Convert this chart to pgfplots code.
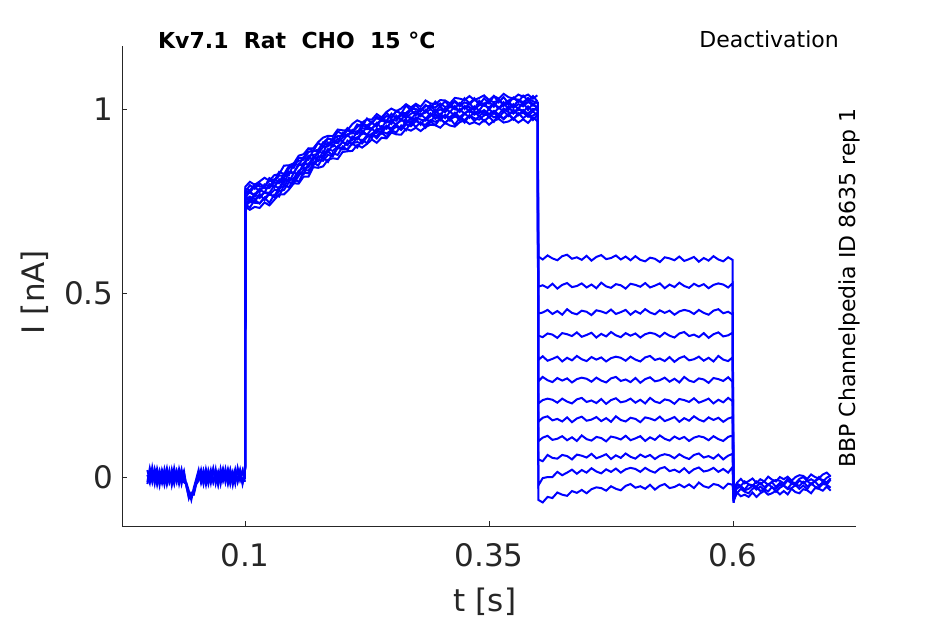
\documentclass[border=0pt]{standalone}
\usepackage{fontspec}
\setmainfont{DejaVu Sans}
\usepackage{pgfplots}
\usepackage{pgfplotstable}
\pgfplotsset{compat=1.18}
\definecolor{axgray}{RGB}{38,38,38}
\definecolor{trace}{RGB}{0,0,255}

\pgfplotstableread{
t a b c d
0.000 0.019 -0.013 0.006 -0.019
0.0025 -0.010 0.024 -0.016 0.013
0.005 0.016 -0.006 0.026 -0.014
0.0075 -0.018 0.014 -0.010 0.022
0.010 0.022 -0.021 0.013 -0.005
0.0125 -0.006 0.010 -0.022 0.018
0.015 0.013 -0.016 0.019 -0.011
0.0175 -0.021 0.021 -0.003 0.014
0.020 0.010 -0.010 0.024 -0.021
0.0225 -0.013 0.018 -0.014 0.006
0.025 0.021 -0.022 0.008 -0.016
0.0275 -0.008 0.011 -0.019 0.024
0.030 0.016 -0.014 0.016 -0.008
0.0325 -0.019 0.022 -0.006 0.013
0.035 0.011 -0.005 0.021 -0.019
0.0375 -0.014 0.016 -0.013 0.010
0.040 -0.020 -0.026 -0.016 -0.024
0.0425 -0.045 -0.052 -0.038 -0.058
0.045 -0.056 -0.046 -0.062 -0.042
0.0475 -0.036 -0.048 -0.030 -0.044
0.050 -0.012 -0.020 -0.006 -0.016
0.0525 0.014 -0.010 0.019 -0.005
0.055 -0.011 0.019 -0.016 0.016
0.0575 0.019 -0.016 0.010 -0.018
0.060 -0.005 0.013 -0.021 0.021
0.0625 0.016 -0.019 0.018 -0.010
0.065 -0.016 0.010 -0.008 0.019
0.0675 0.022 -0.013 0.021 -0.014
0.070 -0.010 0.021 -0.018 0.008
0.0725 0.014 -0.018 0.011 -0.021
0.075 -0.019 0.016 -0.005 0.022
0.0775 0.018 -0.008 0.022 -0.010
0.080 -0.006 0.022 -0.014 0.014
0.0825 0.021 -0.014 0.016 -0.018
0.085 -0.014 0.018 -0.019 0.019
0.0875 0.013 -0.021 0.010 -0.006
0.090 -0.018 0.013 -0.013 0.021
0.0925 0.024 -0.010 0.021 -0.013
0.095 -0.008 0.019 -0.006 0.016
0.0975 0.016 -0.016 0.018 -0.019
0.100 -0.005 0.010 -0.013 0.011
}\pre

\pgfplotstableread{
t a b c d e f g h i j k l
0.1 0.002 -0.004 0.006 -0.002 0.004 0.000 0.003 -0.002 0.001 -0.005 0.004 -0.003
0.1005 0.741 0.738 0.765 0.759 0.777 0.775 0.735 0.754 0.772 0.783 0.734 0.789
0.105 0.732 0.758 0.747 0.776 0.773 0.793 0.749 0.762 0.772 0.779 0.726 0.802
0.110 0.753 0.748 0.769 0.762 0.790 0.783 0.745 0.755 0.767 0.795 0.734 0.794
0.115 0.743 0.769 0.758 0.781 0.774 0.798 0.744 0.762 0.784 0.790 0.731 0.803
0.120 0.759 0.752 0.774 0.773 0.795 0.787 0.759 0.773 0.785 0.789 0.746 0.813
0.125 0.745 0.770 0.772 0.796 0.788 0.812 0.768 0.767 0.785 0.805 0.738 0.805
0.130 0.767 0.761 0.792 0.786 0.809 0.804 0.762 0.780 0.800 0.803 0.753 0.820
0.135 0.762 0.788 0.784 0.809 0.801 0.829 0.776 0.780 0.798 0.819 0.768 0.823
0.140 0.794 0.789 0.810 0.799 0.824 0.823 0.780 0.806 0.814 0.819 0.768 0.846
0.145 0.787 0.813 0.801 0.827 0.820 0.845 0.801 0.806 0.830 0.838 0.781 0.847
0.150 0.809 0.804 0.826 0.826 0.852 0.840 0.798 0.812 0.827 0.852 0.798 0.852
0.155 0.802 0.827 0.824 0.851 0.847 0.867 0.818 0.832 0.847 0.859 0.797 0.873
0.160 0.827 0.822 0.853 0.844 0.869 0.867 0.834 0.840 0.851 0.862 0.816 0.877
0.165 0.825 0.852 0.848 0.869 0.862 0.892 0.833 0.841 0.873 0.883 0.816 0.893
0.170 0.855 0.848 0.871 0.862 0.887 0.886 0.847 0.865 0.875 0.886 0.842 0.893
0.175 0.846 0.872 0.859 0.885 0.883 0.908 0.862 0.870 0.878 0.889 0.840 0.910
0.180 0.869 0.866 0.885 0.880 0.909 0.897 0.859 0.873 0.897 0.908 0.844 0.922
0.185 0.856 0.885 0.882 0.909 0.901 0.920 0.875 0.891 0.898 0.920 0.862 0.927
0.190 0.880 0.873 0.904 0.898 0.920 0.915 0.872 0.886 0.911 0.916 0.866 0.926
0.195 0.875 0.898 0.893 0.920 0.909 0.939 0.894 0.898 0.907 0.927 0.864 0.944
0.200 0.898 0.891 0.911 0.912 0.935 0.931 0.890 0.910 0.922 0.926 0.883 0.942
0.205 0.889 0.914 0.902 0.930 0.927 0.948 0.891 0.902 0.931 0.942 0.885 0.942
0.210 0.907 0.904 0.925 0.916 0.943 0.937 0.907 0.918 0.934 0.935 0.886 0.959
0.215 0.895 0.923 0.918 0.940 0.934 0.958 0.910 0.917 0.932 0.951 0.902 0.969
0.220 0.916 0.911 0.941 0.932 0.958 0.952 0.906 0.934 0.948 0.961 0.895 0.963
0.225 0.907 0.929 0.930 0.954 0.947 0.974 0.924 0.930 0.945 0.955 0.905 0.972
0.230 0.932 0.921 0.946 0.946 0.964 0.960 0.927 0.931 0.946 0.964 0.917 0.971
0.235 0.920 0.942 0.935 0.962 0.951 0.979 0.926 0.946 0.961 0.975 0.908 0.986
0.240 0.936 0.933 0.953 0.948 0.975 0.973 0.940 0.943 0.969 0.968 0.922 0.977
0.245 0.923 0.954 0.946 0.968 0.967 0.990 0.933 0.954 0.963 0.981 0.920 0.992
0.250 0.942 0.940 0.967 0.959 0.987 0.975 0.942 0.947 0.971 0.975 0.936 1.001
0.255 0.936 0.957 0.957 0.982 0.973 0.995 0.952 0.960 0.968 0.994 0.931 0.994
0.260 0.955 0.945 0.973 0.970 0.988 0.987 0.943 0.968 0.983 0.988 0.930 1.001
0.265 0.942 0.969 0.959 0.987 0.980 1.009 0.958 0.970 0.975 0.989 0.946 1.013
0.270 0.965 0.959 0.977 0.971 0.998 0.996 0.953 0.964 0.987 1.001 0.941 1.004
0.275 0.951 0.974 0.968 0.988 0.983 1.011 0.967 0.977 0.994 1.000 0.949 1.014
0.280 0.964 0.957 0.987 0.980 1.001 0.996 0.960 0.971 0.985 0.993 0.940 1.006
0.285 0.949 0.975 0.973 0.997 0.993 1.011 0.957 0.968 0.990 1.008 0.951 1.023
0.290 0.966 0.964 0.988 0.981 1.011 1.001 0.970 0.981 0.999 1.007 0.957 1.015
0.295 0.956 0.984 0.973 0.998 0.994 1.020 0.965 0.987 0.990 1.004 0.956 1.013
0.300 0.974 0.969 0.987 0.981 1.007 1.006 0.972 0.977 0.999 1.015 0.949 1.024
0.305 0.961 0.984 0.975 1.002 0.993 1.021 0.963 0.983 0.991 1.005 0.962 1.023
0.310 0.975 0.968 0.993 0.991 1.014 1.005 0.973 0.977 1.007 1.011 0.955 1.015
0.315 0.957 0.984 0.982 1.008 1.002 1.022 0.979 0.990 0.999 1.019 0.952 1.030
0.320 0.976 0.969 1.000 0.992 1.016 1.011 0.977 0.978 0.996 1.007 0.964 1.028
0.325 0.963 0.988 0.986 1.008 1.000 1.029 0.970 0.989 1.007 1.018 0.969 1.024
0.330 0.983 0.976 1.000 0.991 1.016 1.015 0.982 0.995 1.005 1.012 0.959 1.035
0.335 0.967 0.993 0.985 1.007 0.999 1.029 0.975 0.985 0.997 1.025 0.964 1.024
0.340 0.981 0.980 0.998 0.995 1.022 1.011 0.971 0.989 1.011 1.017 0.958 1.030
0.345 0.966 0.994 0.983 1.015 1.009 1.029 0.983 0.997 1.009 1.013 0.970 1.037
0.350 0.979 0.977 1.000 0.998 1.020 1.015 0.987 0.986 1.004 1.024 0.957 1.024
0.355 0.965 0.992 0.987 1.014 1.006 1.035 0.977 0.995 1.015 1.018 0.968 1.035
0.360 0.985 0.974 1.005 1.001 1.025 1.018 0.981 0.985 1.003 1.024 0.973 1.028
0.365 0.972 0.994 0.991 1.018 1.009 1.032 0.975 1.001 1.009 1.014 0.963 1.041
0.370 0.985 0.981 1.008 0.997 1.020 1.015 0.986 0.991 1.015 1.023 0.966 1.032
0.375 0.971 0.998 0.988 1.013 1.006 1.031 0.974 0.988 1.003 1.028 0.974 1.028
0.380 0.989 0.983 1.003 1.000 1.024 1.019 0.984 0.998 1.013 1.025 0.963 1.039
0.385 0.975 0.997 0.991 1.018 1.012 1.036 0.990 0.996 1.007 1.018 0.972 1.033
0.390 0.985 0.980 1.007 0.997 1.029 1.023 0.979 0.987 1.019 1.029 0.962 1.039
0.395 0.970 0.994 0.994 1.015 1.010 1.035 0.982 1.000 1.010 1.021 0.977 1.028
0.3995 0.984 0.982 1.006 1.003 1.023 1.021 0.989 0.997 1.005 1.016 0.967 1.037
}\rise

\pgfplotstableread{
t a b c d e f g h i j k l
0.4 0.985 1.000 0.990 1.010 0.995 1.020 0.980 1.005 0.990 1.015 1.000 0.985
0.4005 0.599 0.517 0.444 0.384 0.318 0.260 0.200 0.150 0.097 0.048 -0.023 -0.062
0.405 0.591 0.521 0.447 0.380 0.328 0.272 0.209 0.161 0.107 0.043 -0.003 -0.069
0.410 0.602 0.514 0.454 0.390 0.316 0.263 0.213 0.165 0.112 0.060 0.000 -0.054
0.415 0.594 0.525 0.443 0.387 0.321 0.258 0.210 0.154 0.101 0.052 0.000 -0.057
0.420 0.589 0.512 0.451 0.378 0.327 0.269 0.202 0.158 0.104 0.050 0.014 -0.042
0.425 0.600 0.522 0.441 0.391 0.314 0.262 0.213 0.151 0.111 0.060 0.005 -0.048
0.430 0.604 0.527 0.456 0.388 0.324 0.268 0.205 0.162 0.100 0.057 0.012 -0.051
0.435 0.593 0.516 0.446 0.383 0.317 0.257 0.200 0.149 0.108 0.048 0.020 -0.038
0.440 0.597 0.519 0.442 0.393 0.329 0.266 0.211 0.159 0.098 0.061 0.009 -0.043
0.445 0.590 0.526 0.452 0.381 0.320 0.270 0.215 0.164 0.113 0.058 0.019 -0.035
0.450 0.601 0.515 0.449 0.386 0.315 0.267 0.204 0.153 0.103 0.053 0.012 -0.044
0.455 0.588 0.523 0.440 0.392 0.326 0.259 0.208 0.156 0.099 0.063 0.024 -0.033
0.460 0.598 0.513 0.453 0.379 0.319 0.270 0.201 0.163 0.109 0.051 0.015 -0.028
0.465 0.603 0.528 0.450 0.389 0.325 0.262 0.212 0.152 0.106 0.056 0.010 -0.030
0.470 0.592 0.518 0.445 0.382 0.314 0.257 0.199 0.160 0.097 0.062 0.021 -0.037
0.475 0.595 0.514 0.455 0.394 0.323 0.268 0.209 0.150 0.110 0.049 0.014 -0.025
0.480 0.602 0.524 0.443 0.385 0.327 0.272 0.214 0.165 0.107 0.059 0.023 -0.032
0.485 0.591 0.521 0.448 0.380 0.324 0.261 0.203 0.155 0.102 0.052 0.012 -0.036
0.490 0.599 0.512 0.454 0.391 0.316 0.265 0.206 0.151 0.112 0.064 0.021 -0.024
0.495 0.589 0.525 0.441 0.384 0.327 0.258 0.213 0.161 0.100 0.055 0.025 -0.019
0.500 0.600 0.522 0.451 0.390 0.319 0.269 0.202 0.158 0.105 0.050 0.022 -0.029
0.505 0.590 0.517 0.444 0.379 0.314 0.256 0.210 0.149 0.111 0.061 0.014 -0.025
0.510 0.586 0.527 0.456 0.388 0.325 0.266 0.200 0.162 0.098 0.054 0.025 -0.032
0.515 0.596 0.515 0.447 0.392 0.329 0.271 0.215 0.159 0.108 0.060 0.017 -0.021
0.520 0.593 0.520 0.442 0.389 0.318 0.260 0.205 0.154 0.101 0.049 0.012 -0.034
0.525 0.584 0.526 0.453 0.381 0.322 0.263 0.201 0.164 0.113 0.058 0.023 -0.024
0.530 0.597 0.513 0.446 0.392 0.315 0.270 0.211 0.152 0.104 0.062 0.027 -0.019
0.535 0.594 0.523 0.452 0.384 0.326 0.259 0.208 0.157 0.099 0.059 0.016 -0.030
0.540 0.589 0.516 0.441 0.379 0.313 0.267 0.199 0.163 0.110 0.051 0.020 -0.027
0.545 0.599 0.528 0.450 0.390 0.323 0.257 0.212 0.150 0.103 0.062 0.013 -0.020
0.550 0.587 0.519 0.454 0.394 0.328 0.272 0.209 0.160 0.109 0.054 0.024 -0.028
0.555 0.592 0.514 0.451 0.383 0.317 0.262 0.204 0.153 0.098 0.049 0.011 -0.020
0.560 0.598 0.525 0.443 0.387 0.320 0.258 0.214 0.165 0.107 0.060 0.021 -0.030
0.565 0.585 0.518 0.454 0.380 0.327 0.268 0.202 0.156 0.111 0.064 0.026 -0.015
0.570 0.595 0.524 0.446 0.391 0.316 0.265 0.207 0.151 0.108 0.053 0.015 -0.025
0.575 0.588 0.513 0.441 0.378 0.324 0.256 0.213 0.162 0.100 0.057 0.018 -0.029
0.580 0.600 0.522 0.452 0.388 0.314 0.269 0.200 0.155 0.111 0.050 0.025 -0.019
0.585 0.591 0.526 0.456 0.393 0.329 0.266 0.210 0.161 0.103 0.061 0.014 -0.022
0.590 0.586 0.523 0.445 0.382 0.319 0.261 0.203 0.150 0.098 0.048 0.022 -0.031
0.595 0.597 0.515 0.449 0.385 0.315 0.271 0.215 0.159 0.109 0.058 0.012 -0.018
0.5995 0.590 0.526 0.442 0.392 0.325 0.259 0.206 0.163 0.113 0.063 0.027 -0.021
0.6005 -0.045 -0.060 -0.040 -0.070 -0.050 -0.035 -0.065 -0.045 -0.055 -0.040 -0.060 -0.050
}\steady

\pgfplotstableread{
t a b c d e f
0.6005 -0.062 -0.048 -0.070 -0.040 -0.066 -0.035
0.604 -0.044 -0.031 -0.023 -0.018 -0.042 -0.016
0.608 -0.032 -0.025 -0.025 -0.024 -0.052 -0.005
0.612 -0.040 -0.036 -0.034 -0.012 -0.048 -0.017
0.616 -0.044 -0.032 -0.020 -0.020 -0.054 -0.011
0.620 -0.032 -0.024 -0.022 -0.024 -0.042 -0.004
0.624 -0.027 -0.034 -0.026 -0.012 -0.054 -0.016
0.628 -0.038 -0.026 -0.016 -0.019 -0.044 -0.006
0.632 -0.033 -0.035 -0.027 -0.012 -0.038 -0.012
0.636 -0.039 -0.019 -0.021 -0.022 -0.048 0.001
0.640 -0.027 -0.028 -0.014 -0.012 -0.044 -0.007
0.644 -0.040 -0.032 -0.027 -0.008 -0.037 -0.012
0.648 -0.029 -0.021 -0.016 -0.010 -0.047 0.000
0.652 -0.023 -0.023 -0.022 -0.017 -0.038 -0.006
0.656 -0.033 -0.031 -0.009 -0.005 -0.047 0.001
0.660 -0.030 -0.018 -0.018 -0.013 -0.032 -0.010
0.664 -0.022 -0.020 -0.022 -0.017 -0.041 0.000
0.668 -0.032 -0.024 -0.010 -0.005 -0.044 0.005
0.672 -0.023 -0.013 -0.016 0.000 -0.033 0.003
0.676 -0.033 -0.025 -0.010 -0.011 -0.036 -0.005
0.680 -0.017 -0.019 -0.020 -0.006 -0.044 0.007
0.684 -0.026 -0.012 -0.010 -0.012 -0.030 0.000
0.688 -0.029 -0.024 -0.005 0.000 -0.032 -0.004
0.692 -0.019 -0.014 -0.008 -0.013 -0.037 0.007
0.696 -0.021 -0.020 -0.015 -0.002 -0.026 0.012
0.700 -0.029 -0.007 -0.003 0.004 -0.037 0.002
}\post

\begin{document}
\begin{tikzpicture}
\useasboundingbox (-122pt,-98pt) rectangle (823pt,526pt);
\begin{axis}[
  at={(0pt,0pt)}, anchor=south west,
  scale only axis, width=734pt, height=480pt,
  xmin=-0.026, xmax=0.726, ymin=-0.133, ymax=1.171,
  axis x line*=bottom, axis y line*=left,
  axis line style={axgray, line width=0.8pt, -},
  tick align=inside, major tick length=5pt,
  tick style={axgray, line width=0.8pt},
  xtick={0.1,0.35,0.6}, xticklabels={0.1,0.35,0.6},
  ytick={0,0.5,1}, yticklabels={0,0.5,1},
  ticklabel style={font=\fontsize{31}{36}\selectfont, text=axgray},
  xticklabel style={yshift=-14pt},
  yticklabel style={xshift=-5pt},
  clip=false,
]
\pgfplotsinvokeforeach{a,b,c,d}{
  \addplot[trace, line width=2pt, mark=none] table[x=t, y=#1]{\pre};
}
\pgfplotsinvokeforeach{a,b,c,d,e,f,g,h,i,j,k,l}{
  \addplot[trace, line width=2pt, mark=none] table[x=t, y=#1]{\rise};
}
\pgfplotsinvokeforeach{a,b,c,d,e,f,g,h,i,j,k,l}{
  \addplot[trace, line width=2pt, mark=none] table[x=t, y=#1]{\steady};
}
\pgfplotsinvokeforeach{a,b,c,d,e,f}{
  \addplot[trace, line width=2pt, mark=none] table[x=t, y=#1]{\post};
}
\end{axis}
\node[anchor=west, inner sep=0pt, font=\bfseries\fontsize{22}{26}\selectfont, text=black] at (36pt,486pt) {Kv7.1\ \ Rat\ \ CHO\ \ 15 °C};
\node[anchor=east, inner sep=0pt, font=\fontsize{22}{26}\selectfont, text=black] at (717pt,487pt) {Deactivation};
\node[rotate=90, inner sep=0pt, font=\fontsize{22}{26}\selectfont, text=black] at (727pt,238pt) {BBP Channelpedia ID 8635 rep 1};
\node[rotate=90, font=\fontsize{31}{36}\selectfont, text=axgray] at (-87pt,234pt) {I [nA]};
\node[font=\fontsize{31}{36}\selectfont, text=axgray] at (363pt,-76pt) {t [s]};
\end{tikzpicture}
\end{document}
